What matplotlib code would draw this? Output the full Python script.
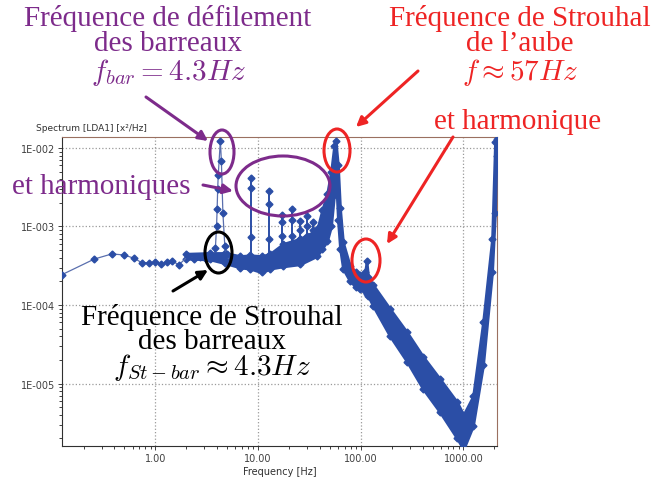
"""
Spectre LDA1 : raies de défilement des barreaux et Strouhal de l'aube
"""

import numpy as np
import matplotlib
matplotlib.use("Agg")
import matplotlib.pyplot as plt
from matplotlib.patches import Ellipse
from matplotlib.ticker import FuncFormatter, LogLocator, NullFormatter

plt.rcParams['mathtext.fontset'] = 'cm'

# basse fréquence, points individuels (Hz, x²/Hz)
low_f = [0.123, 0.255, 0.377, 0.496, 0.625, 0.737, 0.868, 1.0, 1.14, 1.29,
         1.44, 1.70, 2.08, 2.4, 2.75, 3.1, 3.45, 3.7, 3.85, 3.95, 4.0, 4.05,
         4.1, 4.3, 4.4, 4.55, 4.75, 4.95, 5.3, 5.8, 6.4, 7.0]
low_v = [2.43e-4, 3.85e-4, 4.47e-4, 4.34e-4, 3.93e-4, 3.46e-4, 3.46e-4,
         3.5e-4, 3.36e-4, 3.5e-4, 3.64e-4, 3.26e-4, 4.17e-4, 3.9e-4, 4.1e-4,
         3.8e-4, 4.0e-4, 4.2e-4, 5.4e-4, 1.02e-3, 1.67e-3, 3.0e-3, 4.5e-3,
         1.24e-2, 6.8e-3, 1.5e-3, 5.7e-4, 4.4e-4, 3.6e-4, 3.9e-4, 3.4e-4,
         3.7e-4]

# harmoniques de la fréquence de défilement
harm_f = [8.6, 12.9, 17.2, 21.5, 25.8, 30.1, 34.4, 38.7]
harm_peak = [4.15e-3, 2.83e-3, 1.40e-3, 1.67e-3, 1.17e-3, 1.36e-3, 1.14e-3, 9.5e-4]
harm_mid = [3.1e-3, 1.93e-3, 1.14e-3, 1.2e-3, 9.0e-4, 1.0e-3, 9.0e-4, 8.0e-4]
harm_low = [7.3e-4, 7.0e-4, 7.5e-4, 7.5e-4, 7.0e-4, 7.5e-4, 7.5e-4, 7.0e-4]
harm_base = [4.0e-4, 3.8e-4, 4.3e-4, 5.0e-4, 5.5e-4, 6.0e-4, 7.0e-4, 8.0e-4]

# enveloppe du nuage de points (bande bruitée)
band_f = [2.0, 3.4, 4.8, 6.7, 8.4, 10.9, 13.1, 17.5, 25.6, 37.5, 42, 47, 51.4,
          55, 57, 60, 62.9, 67.2, 78.7, 90, 98.5, 110, 114, 118, 132, 193,
          282, 405, 592, 867, 1000, 1240, 1552, 1900, 2030, 2100]
band_hi = [4.5e-4, 4.6e-4, 4.6e-4, 4.2e-4, 4.3e-4, 4.2e-4, 4.5e-4, 6.0e-4,
           7.0e-4, 9.0e-4, 1.6e-3, 2.6e-3, 5.0e-3, 1.05e-2, 1.23e-2, 6.0e-3,
           1.7e-3, 6.3e-4, 3.1e-4, 2.6e-4, 2.4e-4, 2.6e-4, 3.6e-4, 2.3e-4,
           1.8e-4, 8.9e-5, 4.5e-5, 2.2e-5, 1.14e-5, 5.8e-6, 4.0e-6, 6.9e-6,
           6.1e-5, 7.0e-4, 1.2e-2, 1.3e-2]
band_lo = [3.9e-4, 3.8e-4, 3.4e-4, 3.0e-4, 2.9e-4, 2.6e-4, 2.9e-4, 3.1e-4,
           3.3e-4, 4.2e-4, 5.2e-4, 6.5e-4, 1.0e-3, 2.5e-3, 5.0e-3, 1.2e-3,
           5.2e-4, 2.9e-4, 2.0e-4, 1.7e-4, 1.6e-4, 1.5e-4, 1.4e-4, 1.3e-4,
           9.7e-5, 4.0e-5, 1.9e-5, 8.5e-6, 4.3e-6, 2.0e-6, 1.45e-6, 2.9e-6,
           1.7e-5, 2.6e-4, 1.5e-3, 8e-3]

blue = '#2b4ea6'
purple = '#7d2b8b'
red = '#ee2424'

fig = plt.figure(figsize=(6.66, 4.81), dpi=100)
ax = fig.add_axes([62/666, 1 - 447/481, 435/666, 309/481])
ax.set_xscale('log')
ax.set_yscale('log')
ax.set_xlim(0.1235, 2123)
ax.set_ylim(1.6e-6, 1.38e-2)

ax.fill_between(band_f, band_lo, band_hi, color=blue, lw=2, ec=blue, zorder=3)
ax.plot(band_f, band_hi, 'D', color=blue, ms=3.5, zorder=3)
ax.plot(band_f, band_lo, 'D', color=blue, ms=3.5, zorder=3)

ax.plot(low_f, low_v, '-', color='#5a6fae', lw=0.9, zorder=4)
ax.plot(low_f, low_v, 'D', color=blue, ms=3.5, zorder=5)

ax.vlines(harm_f, harm_base, harm_peak, color=blue, lw=1.4, zorder=4)
ax.plot(harm_f, harm_peak, 'D', color=blue, ms=3.5, zorder=5)
ax.plot(harm_f, harm_mid, 'D', color=blue, ms=3.5, zorder=5)
ax.plot(harm_f, harm_low, 'D', color=blue, ms=3.5, zorder=5)

ax.grid(True, which='major', ls=':', color='#9a9a9a', lw=0.9)
ax.set_axisbelow(True)
ax.xaxis.set_major_locator(LogLocator(base=10, numticks=10))
ax.xaxis.set_minor_locator(LogLocator(base=10, subs=np.arange(2, 10), numticks=20))
ax.yaxis.set_minor_locator(LogLocator(base=10, subs=np.arange(2, 10), numticks=20))
ax.xaxis.set_minor_formatter(NullFormatter())
ax.yaxis.set_minor_formatter(NullFormatter())
ax.xaxis.set_major_formatter(FuncFormatter(lambda v, pos: '%.2f' % v))
ax.yaxis.set_major_formatter(FuncFormatter(lambda v, pos: '1E-%03d' % round(-np.log10(v))))
ax.tick_params(which='both', labelsize=7, colors='#404040', length=3,
               width=0.7, pad=2)
ax.tick_params(which='minor', length=2)
for side in ('left', 'bottom'):
    ax.spines[side].set_color('#303030')
for side in ('top', 'right'):
    ax.spines[side].set_color('#9a7060')
ax.set_xlabel('Frequency [Hz]', fontsize=7, color='#303030', labelpad=2)
fig.text(36/666, 1 - 129/481, 'Spectrum [LDA1] [x²/Hz]', fontsize=6.5,
         color='#303030', va='center')

# couche d'annotations en pixels
ov = fig.add_axes([0, 0, 1, 1], zorder=10)
ov.set_xlim(0, 666)
ov.set_ylim(481, 0)
ov.axis('off')
ov.patch.set_alpha(0)

serif = dict(family='Liberation Serif', fontsize=21, ha='center', va='center')

for y, s in [(18, 'Fréquence de défilement'), (44, 'des barreaux'),
             (72, r'$f_{bar} = 4.3Hz$')]:
    ov.text(168, y, s, color=purple, **serif)
for y, s in [(18, 'Fréquence de Strouhal'), (44, 'de l’aube'),
             (72, r'$f \approx 57Hz$')]:
    ov.text(520, y, s, color=red, **serif)
for y, s in [(318, 'Fréquence de Strouhal'), (342, 'des barreaux'),
             (368, r'$f_{St-bar} \approx 4.3Hz$')]:
    ov.text(212, y, s, color='black', **serif)
ov.text(518, 122, 'et harmonique', color=red, **serif)
ov.text(12, 187, 'et harmoniques', color=purple,
        **dict(serif, ha='left'))

ellipses = [((222, 153), 24, 44, purple), ((283, 187), 94, 60, purple),
            ((218.5, 253.5), 27, 41, 'black'), ((337, 151.5), 26, 43, red),
            ((366, 261.5), 28, 43, red)]
for c, w, h, col in ellipses:
    ov.add_patch(Ellipse(c, w, h, fill=False, ec=col, lw=2.2))

arrows = [((146, 98), (208, 142), purple), ((203, 186), (233, 192), purple),
          ((173, 292), (208, 271), 'black'), ((418, 72), (356, 128), red),
          ((453, 138), (387, 245), red)]
for start, tip, col in arrows:
    ov.annotate('', xy=tip, xytext=start,
                arrowprops=dict(arrowstyle='-|>', color=col, lw=2.2,
                                mutation_scale=14, shrinkA=0, shrinkB=0))

fig.savefig('out.png', dpi=100)
